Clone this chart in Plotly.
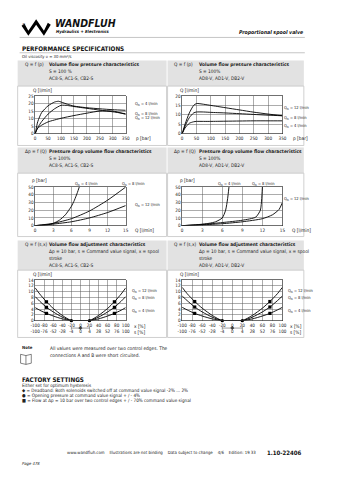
import plotly.graph_objects as go

W, H = 339, 480
FONT = "Liberation Sans Narrow, DejaVu Sans Condensed, Liberation Sans, Arial, sans-serif"

# ---------------- data ----------------
# Panel 1: Q = f(p)  (AC8-S, AC1-S, CB2-S)
p1_p_a = [0, 10, 25, 50, 75, 90, 100, 125, 150, 200, 250, 300, 350]
p1_q_a = [0, 8, 14, 18.5, 21, 21.5, 21, 19.5, 18.3, 17.2, 16.5, 15.9, 15.5]
p1_p_b = [0, 10, 25, 50, 75, 100, 125, 150, 200, 250, 300, 350]
p1_q_b = [0, 4, 8, 13, 16.5, 18.8, 18.7, 18, 16.8, 15.6, 14.5, 13.2]
p1_p_c = [0, 5, 10, 25, 50, 100, 150, 200, 250, 300, 350]
p1_q_c = [0, 2.2, 3.6, 5.6, 7.8, 10.2, 12, 13.6, 15, 15, 12.8]
p1_labels = ["Q<sub>N</sub> = 4 l/min", "Q<sub>N</sub> = 8 l/min", "Q<sub>N</sub> = 12 l/min"]

# Panel 2: Q = f(p)  (AD8-V, AD1-V, DB2-V)
p2_p = [0, 10, 25, 40, 50, 75, 100, 150, 200, 250, 300, 350]
p2_q_12 = [0, 5, 11, 15, 16, 15.6, 15, 13.8, 12.6, 11.4, 10.4, 9.5]
p2_q_8 = [0, 4, 8.5, 11, 11.5, 11.5, 11.3, 11, 10.6, 10.2, 9.8, 9.5]
p2_q_4 = [0, 3, 5.5, 6.3, 6.5, 6.5, 6.5, 6.6, 6.7, 6.8, 6.8, 6.8]
p2_labels = ["Q<sub>N</sub> = 12 l/min", "Q<sub>N</sub> = 8 l/min", "Q<sub>N</sub> = 4 l/min"]

# Panel 3: dp = f(Q)  (AC8-S ...)
p3_q_4 = [0, 2, 3, 4, 5, 6, 6.5, 7, 7.3]
p3_p_4 = [0, 1, 3, 7, 14, 25, 33, 43, 50]
p3_q_8 = [0, 3, 6, 9, 12, 15]
p3_p_8 = [0, 3, 9, 19, 33, 50]
p3_q_12 = [0, 3, 6, 9, 12, 15]
p3_p_12 = [0, 2, 5, 10, 17, 26]

# Panel 4: dp = f(Q)  (AD8-V ...)
p4_q_4 = [0, 2, 4, 5, 6, 6.5, 6.8, 7]
p4_p_4 = [0, 1, 3, 5, 10, 20, 35, 50]
p4_q_8 = [0, 3, 6, 9, 11, 11.7, 11.9, 12]
p4_p_8 = [0, 1.5, 4, 7, 11, 20, 35, 50]
p4_q_12 = [0, 3, 6, 9, 12, 13.5, 14.5, 15]
p4_p_12 = [0, 1, 2.5, 5, 9, 14, 21, 30]

# Panels 5/6: Q = f(s,x)
sx_x = [-100, -90, -75, -60, -40, -20, 0, 20, 40, 60, 75, 90, 100]
p5_q_12 = [11.3, 9.2, 6.5, 4.2, 1.8, 0, 0, 0, 1.8, 4.2, 6.5, 9.2, 11.3]
p5_q_8 = [8.3, 6.7, 4.6, 3.0, 1.2, 0, 0, 0, 1.2, 3.0, 4.6, 6.7, 8.3]
p5_q_4 = [4.5, 3.6, 2.5, 1.6, 0.6, 0, 0, 0, 0.6, 1.6, 2.5, 3.6, 4.5]
p6_q_12 = [11.5, 9.3, 6.6, 4.3, 1.8, 0, 0, 0, 1.8, 4.3, 6.6, 9.3, 11.5]
p6_q_8 = [8.5, 6.9, 4.7, 3.0, 1.2, 0, 0, 0, 1.2, 3.0, 4.7, 6.9, 8.5]
p6_q_4 = [4.6, 3.7, 2.5, 1.6, 0.6, 0, 0, 0, 0.6, 1.6, 2.5, 3.7, 4.6]
sx_open_x = [-20, 20]      # opening pressure markers
sx_flow_x = [-75, 75]      # flow markers (+/- 70 % command)
sx_dead_x = [-20, 0, 20]   # deadband indicator
sx_x_ticks = [-100, -80, -60, -40, -20, 0, 20, 40, 60, 80, 100]
sx_s_ticks = ["-100", "-76", "-52", "-28", "-4", "0", "4", "28", "52", "76", "100"]
sx_labels = ["Q<sub>N</sub> = 12 l/min", "Q<sub>N</sub> = 8 l/min", "Q<sub>N</sub> = 4 l/min"]

p_ticks = [0, 50, 100, 150, 200, 250, 300, 350]
q_ticks_dp = [0, 3, 6, 9, 12, 15]

# ---------------- helpers ----------------
def X(px):
    return px / W


def Y(py):
    return 1 - py / H


shapes = []
annotations = []
layout_axes = {}


def text(x, y, s, size=4.8, bold=False, italic=False, anchor="left", color="#222", yanchor="middle"):
    if bold:
        s = "<b>" + s + "</b>"
    if italic:
        s = "<i>" + s + "</i>"
    annotations.append(dict(x=X(x), y=Y(y), xref="paper", yref="paper", text=s, showarrow=False,
                            xanchor=anchor, yanchor=yanchor,
                            font=dict(family=FONT, size=size, color=color)))


def rect(x0, y0, x1, y1, fill=None, line=None, lw=0.6):
    shapes.append(dict(type="rect", xref="paper", yref="paper", x0=X(x0), x1=X(x1), y0=Y(y1), y1=Y(y0),
                       fillcolor=fill if fill else "rgba(0,0,0,0)",
                       line=dict(color=line if line else "rgba(0,0,0,0)", width=lw if line else 0),
                       layer="below"))


def hline(x0, x1, y, color="#999", lw=0.6):
    shapes.append(dict(type="line", xref="paper", yref="paper", x0=X(x0), x1=X(x1), y0=Y(y), y1=Y(y),
                       line=dict(color=color, width=lw)))


def poly(pts, fill="black", line=None, lw=0.6, closed=True):
    d = "M" + " L".join("%.5f,%.5f" % (X(a), Y(b)) for a, b in pts) + (" Z" if closed else "")
    shapes.append(dict(type="path", xref="paper", yref="paper", path=d,
                       fillcolor=fill if fill else "rgba(0,0,0,0)",
                       line=dict(color=line if line else "rgba(0,0,0,0)", width=lw if line else 0)))


def axes(n, xpx, ypx, xr, yr, xticks, yticks, xtext=None, show=True):
    xs = "xaxis" if n == 1 else "xaxis%d" % n
    ys = "yaxis" if n == 1 else "yaxis%d" % n
    anchor_x = "y" if n == 1 else "y%d" % n
    anchor_y = "x" if n == 1 else "x%d" % n
    common = dict(showgrid=show, gridcolor="#5a5a5a", gridwidth=0.5, zeroline=False,
                  showline=show, linecolor="#333", linewidth=0.7, mirror=show,
                  ticks="", fixedrange=True, tickangle=0,
                  tickfont=dict(family=FONT, size=4.6, color="#222"))
    xa = dict(common, domain=[X(xpx[0]), X(xpx[1])], range=xr, anchor=anchor_x,
              tickmode="array", tickvals=xticks, showticklabels=show)
    if xtext is not None:
        xa["ticktext"] = xtext
    ya = dict(common, domain=[Y(ypx[1]), Y(ypx[0])], range=yr, anchor=anchor_y,
              tickmode="array", tickvals=yticks, showticklabels=show)
    if not show:
        xa.update(showgrid=False, showline=False, showticklabels=False, visible=False)
        ya.update(showgrid=False, showline=False, showticklabels=False, visible=False)
    layout_axes[xs] = xa
    layout_axes[ys] = ya
    return ("x" if n == 1 else "x%d" % n), ("y" if n == 1 else "y%d" % n)


fig = go.Figure()


def line(ax, xs, ys, w=0.9):
    fig.add_trace(go.Scatter(x=xs, y=ys, xaxis=ax[0], yaxis=ax[1], mode="lines",
                             line=dict(color="black", width=w, shape="spline", smoothing=0.6),
                             showlegend=False, hoverinfo="skip"))


def marks(ax, xs, ys, symbol, size=3.2):
    fig.add_trace(go.Scatter(x=xs, y=ys, xaxis=ax[0], yaxis=ax[1], mode="markers",
                             marker=dict(color="black", size=size, symbol=symbol),
                             cliponaxis=False, showlegend=False, hoverinfo="skip"))


# ---------------- page header ----------------
poly([(17, 24), (24, 34), (32, 23), (40, 34), (47, 23), (44, 21), (40, 29), (32, 17.5), (24, 29), (20, 22)])
text(15.5, 23, "®", size=4)
text(49, 21.5, "WANDFLUH", size=10.5, bold=True, italic=True, color="#111")
text(50, 30, "Hydraulics + Electronics", size=4.3, bold=True, italic=True, color="#111")
text(308, 31, "Proportional spool valve", size=5.2, bold=True, italic=True, anchor="right", color="#111")
hline(15, 308, 35.8, color="#aaa", lw=0.7)
text(15, 47, "PERFORMANCE SPECIFICATIONS", size=6.3, bold=True, color="#111")
hline(15, 308, 51.3, color="#aaa", lw=0.7)
text(15, 55.5, "Oil viscosity υ = 30 mm²/s", size=4.2)

# ---------------- panel frames ----------------
LEFT = (13, 166)
RIGHT = (167, 307)
rows = [(59, 85, 145), (147, 173, 237), (241, 271, 339)]
for (ht, hb, bb) in rows:
    for (x0, x1) in (LEFT, RIGHT):
        rect(x0, ht, x1, hb, fill="#e2e2e2")
        rect(x0, hb, x1, bb, fill="white", line="#c4c4c4", lw=0.8)

headers = [
    (LEFT, rows[0], "Q = f (p)", ["Volume flow pressure characteristics", "S = 100 %", "AC8-S, AC1-S, CB2-S"]),
    (RIGHT, rows[0], "Q = f (p)", ["Volume flow pressure characteristics", "S = 100%", "AD8-V, AD1-V, DB2-V"]),
    (LEFT, rows[1], "Δp = f (Q)", ["Pressure drop volume flow characteristics", "S = 100%", "AC8-S, AC1-S, CB2-S"]),
    (RIGHT, rows[1], "Δp = f (Q)", ["Pressure drop volume flow characteristics", "S = 100%", "AD8-V, AD1-V, DB2-V"]),
    (LEFT, rows[2], "Q = f (s,x)", ["Volume flow adjustment characteristics",
                                   "Δp = 10 bar, s = Command value signal, x = spool", "stroke",
                                   "AC8-S, AC1-S, CB2-S"]),
    (RIGHT, rows[2], "Q = f (s,x)", ["Volume flow adjustment characteristics",
                                    "Δp = 10 bar, s = Command value signal, x = spool", "stroke",
                                    "AD8-V, AD1-V, DB2-V"]),
]
for (xx, rr, key, lines_) in headers:
    x0 = xx[0]
    y0 = rr[0] + 4.3
    text(x0 + 5, y0, key, size=4.8)
    for i, s in enumerate(lines_):
        text(x0 + 30, y0 + i * 7, s, size=4.8, bold=(i == 0))

# ---------------- plot geometry ----------------
LX = (31, 124)
RX = (182, 285)
Y1 = (95, 133)
Y2 = (187, 226)
Y3 = (281, 322)

# Panel 1
a1 = axes(1, LX, Y1, [0, 350], [0, 25], p_ticks, [0, 5, 10, 15, 20, 25])
line(a1, p1_p_a, p1_q_a)
line(a1, p1_p_b, p1_q_b)
line(a1, p1_p_c, p1_q_c)
text(27, 89.5, "Q [l/min]", size=4.8)
text(133, 137.5, "p [bar]", size=4.8)
for s, yy in zip(p1_labels, [103, 113, 117]):
    text(132, yy, s, size=4)

# Panel 2
a2 = axes(2, RX, Y1, [0, 350], [0, 20], p_ticks, [0, 5, 10, 15, 20])
line(a2, p2_p, p2_q_12)
line(a2, p2_p, p2_q_8)
line(a2, p2_p, p2_q_4)
text(178, 89.5, "Q [l/min]", size=4.8)
text(294, 137.5, "p [bar]", size=4.8)
for s, yy in zip(p2_labels, [107, 117.5, 125]):
    text(285, yy, s, size=4)

# Panel 3
a3 = axes(3, LX, Y2, [0, 15], [0, 50], q_ticks_dp, [0, 10, 20, 30, 40, 50])
line(a3, p3_q_4, p3_p_4)
line(a3, p3_q_8, p3_p_8)
line(a3, p3_q_12, p3_p_12)
text(26, 180.5, "p [bar]", size=4.8)
text(131, 230.5, "Q [l/min]", size=4.8)
text(70, 183.5, p1_labels[0], size=4)
text(118, 183.5, p1_labels[1], size=4)
text(132, 205, p1_labels[2], size=4)

# Panel 4
a4 = axes(4, RX, Y2, [0, 15], [0, 50], q_ticks_dp, [0, 10, 20, 30, 40, 50])
line(a4, p4_q_4, p4_p_4)
line(a4, p4_q_8, p4_p_8)
line(a4, p4_q_12, p4_p_12)
text(178, 180.5, "p [bar]", size=4.8)
text(293, 230.5, "Q [l/min]", size=4.8)
text(217, 183.5, p1_labels[0], size=4)
text(252, 183.5, p1_labels[1], size=4)
text(285, 199, p1_labels[2], size=4)

# Panels 5, 6
sx_text = ["%d<br>%s" % (a, b) for a, b in zip(sx_x_ticks, sx_s_ticks)]
for n, xx, qs, lab_x in ((5, LX, (p5_q_12, p5_q_8, p5_q_4), 128), (6, RX, (p6_q_12, p6_q_8, p6_q_4), 289)):
    ax = axes(n, xx, Y3, [-100, 100], [0, 14], sx_x_ticks, list(range(0, 15, 2)), xtext=sx_text)
    for q in qs:
        line(ax, sx_x, q)
        marks(ax, sx_flow_x, [q[sx_x.index(v)] for v in sx_flow_x], "square", 3.2)
    marks(ax, sx_open_x, [0, 0], "circle", 3.4)
    text(xx[0] - 4, 275.5, "Q [l/min]", size=4.8)
    text(xx[1] + 6, 327.5, "x [%]", size=4.8)
    text(xx[1] + 6, 333.5, "s [%]", size=4.8)
    for s, yy in zip(sx_labels, [292.5, 299.5, 312]):
        text(lab_x, yy, s, size=4)
    # deadband indicator on its own hidden axes
    dn = n + 2
    ad = axes(dn, xx, (328.0, 331.0), [-100, 100], [-1, 1], [], [], show=False)
    fig.add_trace(go.Scatter(x=sx_dead_x, y=[0, 0, 0], xaxis=ad[0], yaxis=ad[1], mode="lines+markers",
                             line=dict(color="black", width=0.4),
                             marker=dict(symbol=["line-ns", "diamond", "line-ns"], size=[2.5, 2.6, 2.5], color="black",
                                         line=dict(color="black", width=0.5)),
                             showlegend=False, hoverinfo="skip", cliponaxis=False))

# ---------------- note ----------------
text(15, 349.5, "Note", size=4.3, bold=True)
poly([(16, 356), (21.5, 357.3), (27, 356), (27, 365), (21.5, 366.2), (16, 365)], fill=None, line="#333", lw=0.6)
shapes.append(dict(type="line", xref="paper", yref="paper", x0=X(21.5), x1=X(21.5), y0=Y(357.3), y1=Y(366.2),
                   line=dict(color="#333", width=0.6)))
text(44, 350, "All values were measured over two control edges. The", size=4.8)
text(44, 357, "connections A and B were short circuited.", size=4.8)

# ---------------- factory settings ----------------
text(15, 381.5, "FACTORY SETTINGS", size=6.3, bold=True, color="#111")
text(15, 387.5, "Either set for optimum hysteresis", size=4.6)
text(15, 392.5, "◆ = Deadband: Both solenoids switched off at command value signal -2% ... 2%", size=4.6)
text(15, 397.5, "● = Opening pressure at command value signal + / - 4%", size=4.6)
text(15, 402.5, "■ = Flow at Δp = 10 bar over two control edges + / - 70% command value signal", size=4.6)

# ---------------- footer ----------------
text(62, 455, "www.wandfluh.com    Illustrations are not binding    Data subject to change    4/6    Edition: 19 33",
     size=4.3)
text(307, 455, "1.10-22406", size=6, bold=True, anchor="right", color="#111")
text(15, 466, "Page 478", size=4.2, italic=True)

fig.update_layout(width=W, height=H, margin=dict(l=0, r=0, t=0, b=0),
                  paper_bgcolor="white", plot_bgcolor="rgba(0,0,0,0)",
                  shapes=shapes, annotations=annotations, showlegend=False,
                  **layout_axes)
fig.write_html("out.html", config={"displayModeBar": False, "staticPlot": True})
